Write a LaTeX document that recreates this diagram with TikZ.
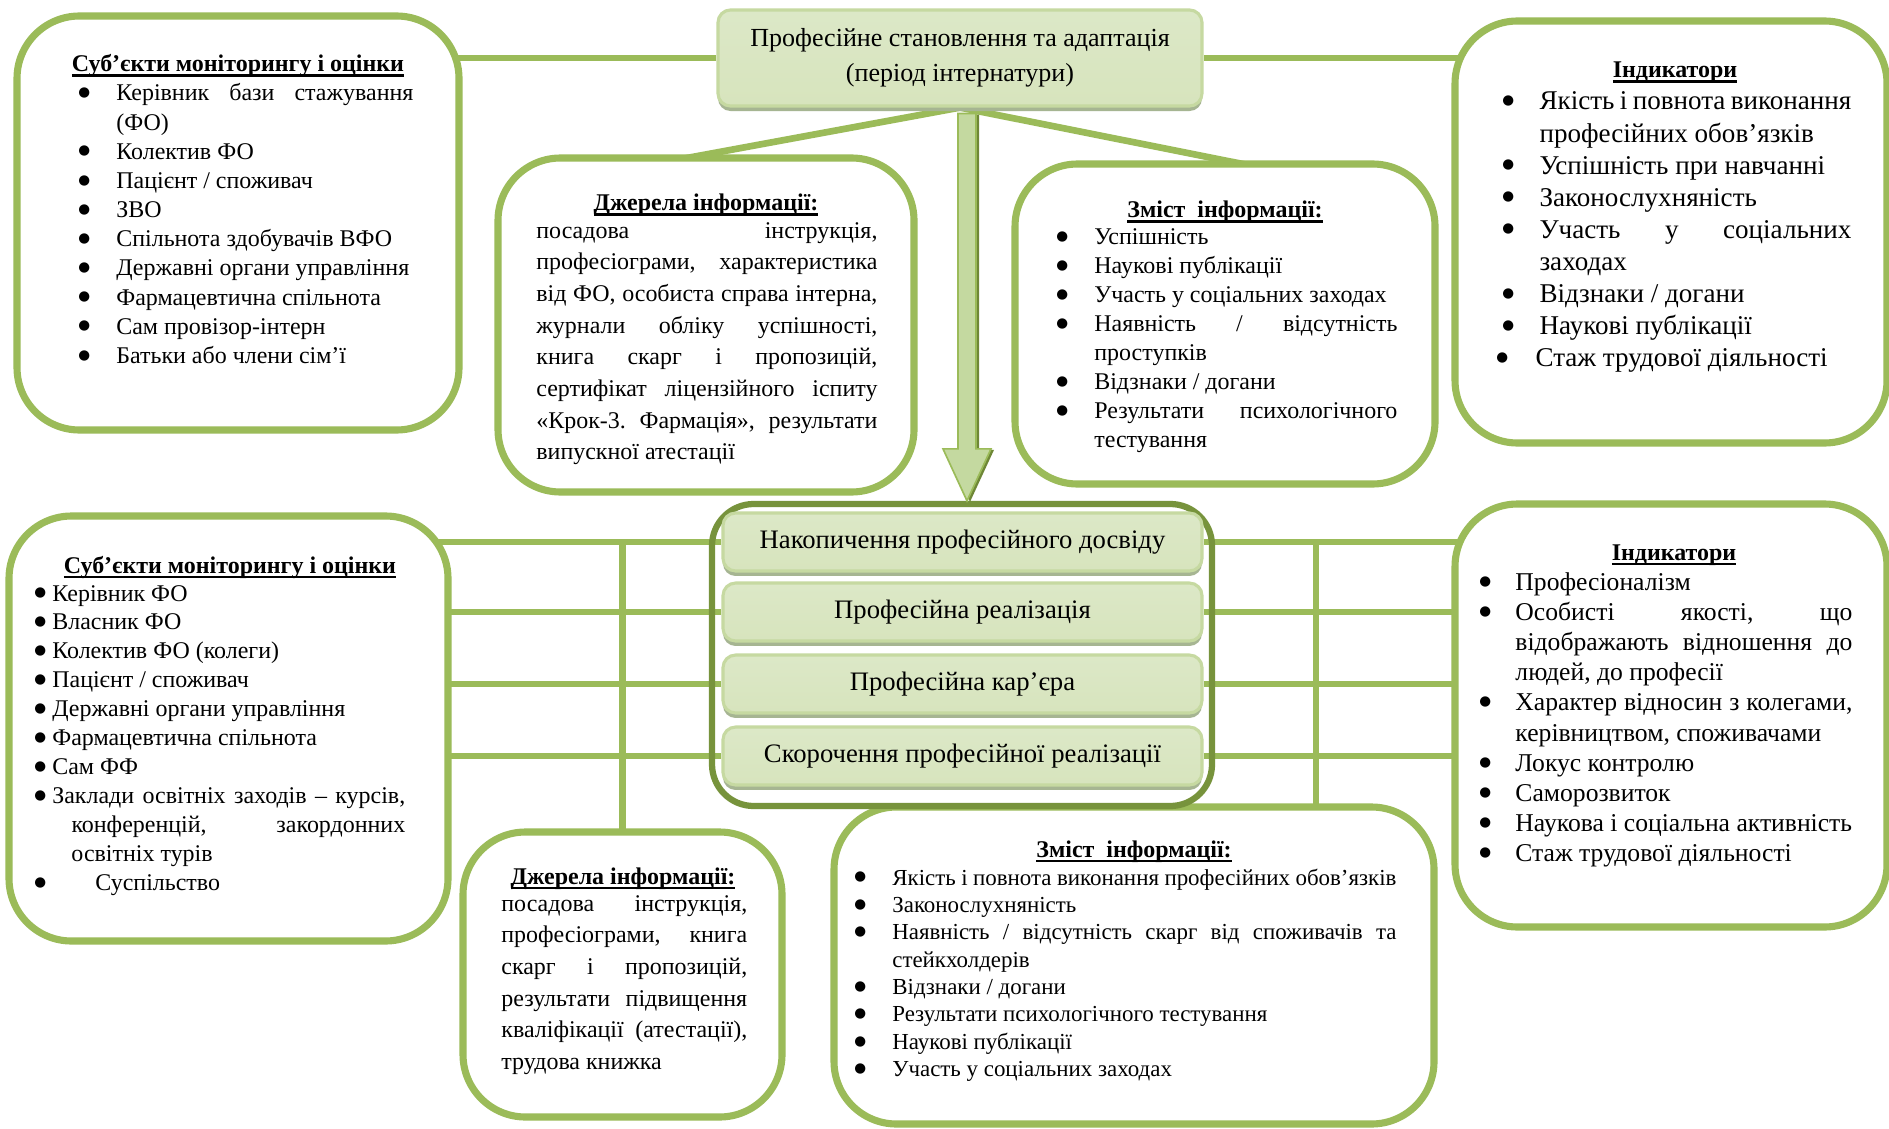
\documentclass[tikz,border=0pt]{standalone}
\usepackage{fontspec}
\setmainfont{Liberation Serif}
\newfontfamily\dotfont{DejaVu Sans}
\usetikzlibrary{fit,shadows,calc}

\definecolor{og}{HTML}{9BBB59}
\definecolor{dg}{HTML}{77933C}
\definecolor{boxfill}{HTML}{D7E4BD}
\definecolor{boxfilltop}{HTML}{DCE8C7}
\definecolor{rimc}{HTML}{C6D9A1}
\definecolor{shadowc}{HTML}{A6B592}
\definecolor{arrowlight}{HTML}{C4D9A0}
\definecolor{arrowdark}{HTML}{6E8736}

\pgfdeclarelayer{back}
\pgfsetlayers{back,main}

\newcommand\fs[2]{\fontsize{#1}{#2}\selectfont}
\newlength\textpos
\newlength\hangpos
% list bullet: a round dot centred at the middle of the capitals
\newsavebox\dotbox
\newcommand\bul{\sbox\dotbox{\dotfont\fontsize{6.5}{7}\selectfont ●}%
  \raisebox{\dimexpr 0.33em-(\ht\dotbox-\dp\dotbox)/2\relax}{\usebox\dotbox}}
% bullet items: optional shift of the bullet, then the item text
\newcommand\bfirst[2][0pt]{\noindent\hangindent=\hangpos\hangafter=1\hbox to\textpos{\hskip#1\bul\hfil}#2}
\newcommand\bitem[2][0pt]{\par\bfirst[#1]{#2}}
\newcommand\listsetup[2]{\setlength\textpos{#1}\setlength\hangpos{#2}}
% heading underline with a heavier rule
\newcommand\uline[1]{\leavevmode\setbox0=\hbox{#1}\rlap{\rule[-2.3pt]{\wd0}{1.1pt}}\box0}

\tikzset{
  bigbox/.style={draw=og, line width=3.4pt, rounded corners=30pt, fill=white, inner sep=0pt},
  conn/.style={draw=og, line width=3.2pt},
  greenbox/.style={top color=boxfilltop, bottom color=boxfill, draw=rimc, line width=1.5pt,
    rounded corners=6pt, inner sep=0pt,
    drop shadow={shadow xshift=0pt, shadow yshift=-2.4pt, fill=shadowc, opacity=1}},
  stagebox/.style={greenbox, minimum width=229.9pt, minimum height=27.8pt, font=\fs{12.8}{15}},
  frame/.style={draw=dg, line width=3pt, rounded corners=20pt, inner sep=0pt},
  listtext/.style={anchor=base west, inner sep=0pt, align=justify},
  heading/.style={anchor=base, inner sep=0pt, font=\fs{11.5}{14}\bfseries},
}

\begin{document}
\frenchspacing\tolerance=9999\hyphenpenalty=10000\exhyphenpenalty=10000
\begin{tikzpicture}[x=0.48pt, y=-0.48pt]
\useasboundingbox (0,0) rectangle (1889,1128);
\begin{pgfonlayer}{back}
  \fill[white] (0,0) rectangle (1889,1128);
\end{pgfonlayer}

% ---------- boxes ----------
\node[bigbox, fit={(17,16) (459,430)}] (s1) {};
\node[bigbox, fit={(1455,21) (1887,443)}] (i1) {};
\node[bigbox, fit={(498,158) (914,492)}] (j1) {};
\node[bigbox, fit={(1015,164) (1435,484)}] (z1) {};
\node[bigbox, fit={(9,516) (448,941)}] (s2) {};
\node[bigbox, fit={(1455,504) (1887,927)}] (i2) {};
\node[bigbox, fit={(463,832) (782,1117)}] (j2) {};
\node[bigbox, fit={(834,807) (1434,1124)}] (z2) {};

\node[greenbox, minimum width=232.3pt, minimum height=46.1pt, align=center, font=\fs{12.5}{16.8}]
  (tb) at (960,58) {Професійне становлення та адаптація\\(період інтернатури)};

\node[frame, fit={(712,504) (1212,806)}] (c) {};
\node[stagebox] (ib1) at (962.5,542) {Накопичення професійного досвіду};
\node[stagebox] (ib2) at (962.5,612) {Професійна реалізація};
\node[stagebox] (ib3) at (962.5,684) {Професійна кар’єра};
\node[stagebox] (ib4) at (962.5,756) {Скорочення професійної реалізації};

% ---------- connectors ----------
\begin{pgfonlayer}{back}
  \draw[conn] (tb.west) -- (s1.center |- tb.west);
  \draw[conn] (tb.east) -- (i1.center |- tb.east);
  \draw[conn, shorten >=-12pt] (tb.south) -- (j1.north);
  \draw[conn, shorten >=-12pt] (tb.south) -- (z1.north);
  \foreach \k in {1,...,4} {
    \draw[conn] (ib\k.west) -- (s2.center |- ib\k.west);
    \draw[conn] (ib\k.east) -- (i2.center |- ib\k.east);
  }
  \draw[conn] (j2.center |- ib1.west) -- (j2.center);
  \coordinate (rv) at (1316,0);
  \draw[conn] (rv |- ib1.east) -- (rv |- z2.center);
\end{pgfonlayer}

% ---------- block arrow ----------
\coordinate (ax) at (967,0);
\coordinate (at) at (ax |- tb.south);
\coordinate (ab) at (ax |- c.north);
\fill[arrowdark] ($(at)+(-6,7)$) -- ($(ab)+(-6,-51)$) -- ($(ab)+(-21,-51)$) -- ($(ab)+(3,1)$)
  -- ($(ab)+(27,-51)$) -- ($(ab)+(12,-51)$) -- ($(at)+(12,7)$) -- cycle;
\draw[draw=og, line width=0.8pt, top color=arrowlight, middle color=og, bottom color=arrowlight]
  ($(at)+(-9,6)$) -- ($(ab)+(-9,-52)$) -- ($(ab)+(-24,-52)$) -- (ab)
  -- ($(ab)+(24,-52)$) -- ($(ab)+(9,-52)$) -- ($(at)+(9,6)$) -- cycle;

% ---------- texts: upper row ----------
\node[heading] (s1t) at (238,72) {\uline{Суб’єкти моніторингу і оцінки}};
\node[listtext, text width=160.8pt, font=\fs{11.5}{14}] (s1l) at (78,101) {%
  \listsetup{18.2pt}{18.2pt}%
  \bfirst{Керівник бази стажування\linebreak (ФО)}%
  \bitem{Колектив ФО}%
  \bitem{Пацієнт / споживач}%
  \bitem{ЗВО}%
  \bitem{Спільнота здобувачів ВФО}%
  \bitem{Державні органи управління}%
  \bitem{Фармацевтична спільнота}%
  \bitem{Сам провізор-інтерн}%
  \bitem{Батьки або члени сім’ї}\par};

\node[heading] (j1t) at (706,211) {\uline{Джерела інформації:}};
\node[listtext, text width=163.7pt, font=\fs{11.5}{15.2}] (j1l) at (536,238) {%
  \noindent посадова інструкція,\linebreak професіограми, характеристика\linebreak
  від ФО, особиста справа інтерна,\linebreak журнали обліку успішності,\linebreak
  книга скарг і пропозицій,\linebreak сертифікат ліцензійного іспиту\linebreak
  «Крок-3. Фармація», результати\linebreak випускної атестації\par};

\node[heading] (z1t) at (1225,218) {\uline{Зміст\ \ інформації:}};
\node[listtext, text width=163.7pt, font=\fs{11.5}{13.9}] (z1l) at (1056,245) {%
  \listsetup{18.2pt}{18.2pt}%
  \bfirst{Успішність}%
  \bitem{Наукові публікації}%
  \bitem{Участь у соціальних заходах}%
  \bitem{Наявність / відсутність\linebreak проступків}%
  \bitem{Відзнаки / догани}%
  \bitem{Результати психологічного\linebreak тестування}\par};

\node[heading] (i1t) at (1675,78) {\uline{Індикатори}};
\node[listtext, text width=167.5pt, font=\fs{13}{15.4}] (i1l) at (1502,110) {%
  \listsetup{17.8pt}{17.8pt}%
  \bfirst{Якість і повнота виконання\linebreak професійних обов’язків}%
  \bitem{Успішність при навчанні}%
  \bitem{Законослухняність}%
  \bitem{Участь у соціальних\linebreak заходах}%
  \bitem{Відзнаки / догани}%
  \bitem{Наукові публікації}%
  \bitem[-2.9pt]{\hskip-1.9pt Стаж трудової діяльності}\par};

% ---------- texts: lower row ----------
\node[heading] (s2t) at (230,573) {\uline{Суб’єкти моніторингу і оцінки}};
\node[listtext, text width=178pt, font=\fs{11.5}{13.9}] (s2l) at (34,601) {%
  \listsetup{8.6pt}{8.6pt}%
  \bfirst{Керівник ФО}%
  \bitem{Власник ФО}%
  \bitem{Колектив ФО (колеги)}%
  \bitem{Пацієнт / споживач}%
  \bitem{Державні органи управління}%
  \bitem{Фармацевтична спільнота}%
  \bitem{Сам ФФ}%
  \listsetup{8.6pt}{17.8pt}%
  \bitem{Заклади освітніх заходів – курсів,\linebreak конференцій, закордонних\linebreak освітніх турів}%
  \listsetup{29.3pt}{29.3pt}%
  \bitem{Суспільство}\par};

\node[heading] (j2t) at (623,884) {\uline{Джерела інформації:}};
\node[listtext, text width=118pt, font=\fs{11.5}{15.2}] (j2l) at (501,911) {%
  \noindent посадова інструкція,\linebreak професіограми, книга\linebreak
  скарг і пропозицій,\linebreak результати підвищення\linebreak
  кваліфікації (атестації),\linebreak трудова книжка\par};

\node[heading] (z2t) at (1134,857) {\uline{Зміст\ \ інформації:}};
\node[listtext, text width=260.2pt, font=\fs{11}{13.15}] (z2l) at (854,885) {%
  \listsetup{18.2pt}{18.2pt}%
  \bfirst{Якість і повнота виконання професійних обов’язків}%
  \bitem{Законослухняність}%
  \bitem{Наявність / відсутність скарг від споживачів та\linebreak стейкхолдерів}%
  \bitem{Відзнаки / догани}%
  \bitem{Результати психологічного тестування}%
  \bitem{Наукові публікації}%
  \bitem{Участь у соціальних заходах}\par};

\node[heading] (i2t) at (1674,560) {\uline{Індикатори}};
\node[listtext, text width=179pt, font=\fs{12.3}{14.5}] (i2l) at (1479,590) {%
  \listsetup{17.3pt}{17.3pt}%
  \bfirst{Професіоналізм}%
  \bitem{Особисті якості, що\linebreak відображають відношення до\linebreak людей, до професії}%
  \bitem{Характер відносин з колегами,\linebreak керівництвом, споживачами}%
  \bitem{Локус контролю}%
  \bitem{Саморозвиток}%
  \bitem{Наукова і соціальна активність}%
  \bitem{Стаж трудової діяльності}\par};
\end{tikzpicture}
\end{document}
